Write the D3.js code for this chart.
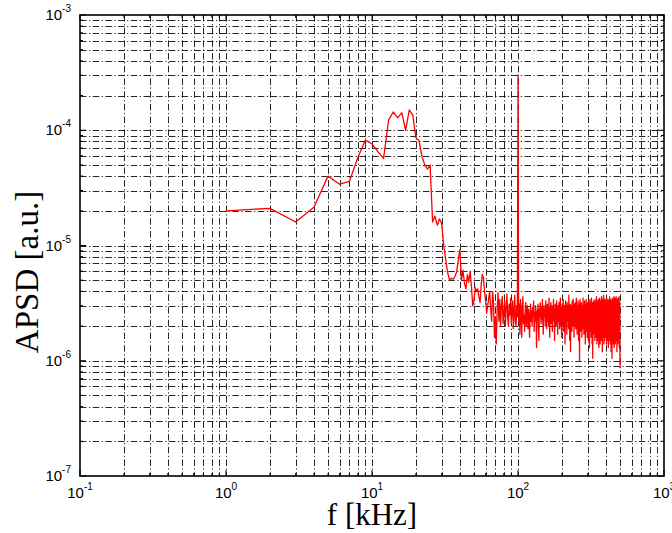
<!DOCTYPE html>
<html><head><meta charset="utf-8">
<script src="https://cdn.jsdelivr.net/npm/d3@7"></script>
<style>body{margin:0;background:#fff;overflow:hidden}</style>
</head><body><svg id="c" width="672" height="533"></svg>
<script>
// axis tick exponents
const xExponents = [-1, 0, 1, 2, 3];
const yExponents = [-7, -6, -5, -4, -3];
const xLabel = "f [kHz]";
const yLabel = "APSD [a.u.]";
// frequency grid (kHz), 1 kHz resolution
const freqKHz = d3.range(1, 501);
// APSD values in units of 1e-6 a.u., f = 1..500 kHz
const apsdE6 = [
 20, 21, 16, 21.5, 40, 34, 36, 58, 82, 76,
 65, 57, 123, 144, 128, 142, 100, 150, 136, 86,
 81, 59, 50, 46, 50, 16, 18, 15, 17, 15.5,
 10, 7.5, 5.8, 5.0, 5.2, 5.1, 5.4, 5.9, 7.5, 9.2,
 5.0, 6.1, 4.7, 4.2, 5.6, 4.8, 6.0, 4.4, 3.0, 3.4,
 4.3, 4.0, 4.2, 3.6, 3.2, 4.6, 5.6, 5.2, 4.0, 3.3,
 2.6, 3.0, 3.5, 4.0, 2.8, 2.2, 4.0, 3.2, 1.6, 2.4,
 1.4, 2.8, 3.9, 2.2, 3.4, 2.0, 3.0, 3.6, 2.1, 2.6,
 3.3, 2.0, 2.9, 3.8, 2.4, 2.0, 3.1, 2.5, 3.5, 2.1,
 2.8, 3.3, 1.9, 2.6, 3.7, 2.2, 2.0, 3.0, 2.4, 300,
 2.2, 3.1, 1.7, 3.4, 2.6, 1.6, 2.9, 3.6, 2.1, 2.5,
 1.8, 2.7, 3.2, 2.0, 2.4, 3.0, 1.9, 2.8, 2.3, 1.6,
 2.6, 3.1, 2.2, 2.7, 2.0, 2.9, 2.4, 3.3, 1.8, 2.6,
 2.2, 3.0, 2.5, 1.3, 2.7, 2.3, 3.1, 2.0, 1.5, 2.8,
 2.4, 3.2, 2.6, 2.1, 2.9, 2.3, 3.4, 2.2, 1.7, 2.7,
 3.0, 2.4, 2.6, 2.0, 3.3, 2.5, 1.9, 2.8, 3.1, 2.2,
 2.7, 2.0, 3.5, 2.4, 1.6, 2.9, 2.6, 3.2, 2.1, 2.5,
 3.0, 1.8, 2.7, 2.3, 3.4, 2.2, 2.8, 1.5, 2.6, 3.1,
 2.4, 2.0, 2.9, 3.3, 2.1, 2.6, 1.7, 3.0, 2.5, 2.2,
 3.2, 2.3, 1.9, 2.8, 3.5, 2.0, 2.6, 2.9, 1.6, 2.7,
 3.1, 2.2, 2.5, 3.4, 1.8, 2.7, 2.3, 3.0, 2.1, 1.4,
 2.8, 3.3, 2.4, 2.0, 2.9, 1.7, 3.2, 2.5, 2.2, 3.0,
 2.6, 1.9, 3.7, 2.3, 2.8, 1.5, 2.7, 3.1, 1.2, 2.4,
 3.0, 2.2, 2.6, 1.8, 3.3, 2.5, 2.0, 2.9, 3.4, 2.1,
 2.7, 1.6, 3.1, 2.4, 2.8, 2.0, 3.2, 2.3, 1.9, 2.6,
 3.5, 2.2, 2.7, 1.7, 3.0, 2.5, 2.1, 3.3, 2.4, 1.5,
 2.8, 3.1, 2.0, 1.0, 2.6, 3.4, 2.3, 1.8, 2.9, 2.5,
 3.2, 2.1, 2.7, 1.6, 3.0, 2.4, 2.8, 1.9, 3.5, 2.2,
 2.6, 3.1, 1.7, 2.9, 2.3, 3.3, 2.0, 2.7, 1.4, 3.0,
 2.5, 2.2, 3.4, 1.8, 2.8, 2.4, 3.1, 1.6, 2.6, 3.2,
 2.1, 2.9, 1.5, 3.3, 2.4, 2.0, 3.0, 2.6, 1.3, 2.8,
 3.4, 2.2, 2.7, 1.8, 3.1, 2.5, 1.6, 2.9, 3.5, 2.1,
 2.6, 1.4, 3.2, 2.3, 1.05, 2.8, 3.0, 2.0, 1.7, 3.3,
 2.4, 2.9, 1.8, 3.1, 2.2, 1.5, 3.4, 2.6, 2.0, 2.8,
 1.6, 3.2, 2.3, 1.9, 3.6, 2.5, 1.4, 2.9, 3.0, 2.1,
 1.7, 3.3, 2.6, 1.5, 2.8, 3.4, 2.0, 1.3, 3.1, 2.4,
 1.8, 3.5, 2.2, 2.9, 1.4, 3.0, 2.5, 1.6, 3.3, 2.1,
 2.7, 1.5, 3.6, 2.3, 1.9, 3.1, 2.6, 1.2, 2.8, 3.4,
 2.0, 1.6, 3.2, 2.5, 3.7, 1.8, 2.9, 1.4, 3.5, 2.2,
 2.7, 1.5, 3.3, 2.4, 1.9, 3.0, 1.6, 2.8, 3.4, 2.1,
 1.7, 3.1, 2.5, 1.4, 3.5, 2.2, 1.9, 3.2, 2.6, 1.5,
 3.0, 2.3, 1.8, 3.4, 2.0, 1.3, 2.9, 3.3, 2.4, 1.6,
 3.1, 2.1, 1.5, 3.6, 2.5, 1.8, 2.8, 3.2, 1.4, 2.6,
 3.4, 1.9, 2.3, 1.2, 3.0, 2.7, 1.6, 3.3, 2.2, 1.05,
 2.9, 3.5, 1.7, 2.4, 3.1, 1.5, 2.6, 3.4, 2.0, 1.4,
 3.2, 2.3, 1.8, 3.6, 2.5, 1.3, 2.9, 3.0, 1.6, 2.2,
 3.5, 1.9, 2.7, 1.4, 3.3, 2.4, 1.7, 3.1, 2.0, 3.6,
 1.5, 2.8, 3.2, 1.8, 2.5, 1.2, 3.4, 2.1, 2.9, 1.6,
 3.0, 2.3, 1.4, 3.5, 2.6, 1.9, 3.1, 1.5, 2.7, 3.3,
 1.7, 2.4, 3.6, 1.3, 2.9, 2.2, 1.6, 3.2, 1.1, 0.86
];

const L = 80, R = 664, T = 15, B = 476;
const svg = d3.select("#c");
const x = d3.scaleLog().domain([Math.pow(10, xExponents[0]), Math.pow(10, xExponents[xExponents.length-1])]).range([L, R]);
const y = d3.scaleLog().domain([Math.pow(10, yExponents[0]), Math.pow(10, yExponents[yExponents.length-1])]).range([B, T]);

const isMajor = v => Math.abs(Math.log10(v) - Math.round(Math.log10(v))) < 1e-9;
const xt = x.ticks();
const yt = y.ticks();

// grid
const grid = svg.append("g").attr("stroke", "#000").attr("stroke-width", 0.85)
  .attr("stroke-dasharray", "6.5 2.5 1.2 2.5").attr("fill", "none");
xt.filter(v => x(v) > L + 0.5 && x(v) < R - 0.5).forEach(v => {
  const px = Math.round(x(v)) + 0.5;
  grid.append("line").attr("x1", px).attr("x2", px).attr("y1", T).attr("y2", B);
});
yt.filter(v => y(v) < B - 0.5 && y(v) > T + 0.5).forEach(v => {
  const py = Math.round(y(v)) + 0.5;
  grid.append("line").attr("y1", py).attr("y2", py).attr("x1", L).attr("x2", R);
});

// data
const data = freqKHz.map((f, i) => [f, apsdE6[i] * 1e-6]);
svg.append("path").datum(data)
  .attr("fill", "none").attr("stroke", "#ff0000").attr("stroke-width", 1.3)
  .attr("stroke-linejoin", "round")
  .attr("d", d3.line().x(d => x(d[0])).y(d => y(d[1])));

// box & ticks
const ax = svg.append("g").attr("stroke", "#000").attr("fill", "none");
ax.append("rect").attr("x", L).attr("y", T).attr("width", R - L).attr("height", B - T).attr("stroke-width", 1.6);
xt.forEach(v => {
  const len = isMajor(v) ? 6 : 3;
  ax.append("line").attr("x1", x(v)).attr("x2", x(v)).attr("y1", B).attr("y2", B - len).attr("stroke-width", 1);
  ax.append("line").attr("x1", x(v)).attr("x2", x(v)).attr("y1", T).attr("y2", T + len).attr("stroke-width", 1);
});
yt.forEach(v => {
  const len = isMajor(v) ? 6 : 3;
  ax.append("line").attr("y1", y(v)).attr("y2", y(v)).attr("x1", L).attr("x2", L + len).attr("stroke-width", 1);
  ax.append("line").attr("y1", y(v)).attr("y2", y(v)).attr("x1", R).attr("x2", R - len).attr("stroke-width", 1);
});

// tick labels
const font = "Liberation Sans, Arial, Helvetica, sans-serif";
xExponents.forEach(e => {
  const t = svg.append("text").attr("x", x(Math.pow(10, e))).attr("y", 498)
    .attr("text-anchor", "middle").attr("font-family", font).attr("font-size", 15).attr("fill", "#000");
  t.append("tspan").text("10");
  t.append("tspan").attr("font-size", 10).attr("dy", -8).text(String(e));
});
yExponents.forEach(e => {
  const t = svg.append("text").attr("x", 71).attr("y", y(Math.pow(10, e)) + 5)
    .attr("text-anchor", "end").attr("font-family", font).attr("font-size", 15).attr("fill", "#000");
  t.append("tspan").text("10");
  t.append("tspan").attr("font-size", 10).attr("dy", -8).text(String(e));
});

// axis labels
const serif = "Liberation Serif, Times New Roman, serif";
svg.append("text").attr("x", (L + R) / 2).attr("y", 525).attr("text-anchor", "middle")
  .attr("font-family", serif).attr("font-size", 31).attr("fill", "#000").text(xLabel);
svg.append("text").attr("transform", `translate(38,272) rotate(-90)`).attr("text-anchor", "middle")
  .attr("font-family", serif).attr("font-size", 33).attr("fill", "#000").text(yLabel);
</script></body></html>
